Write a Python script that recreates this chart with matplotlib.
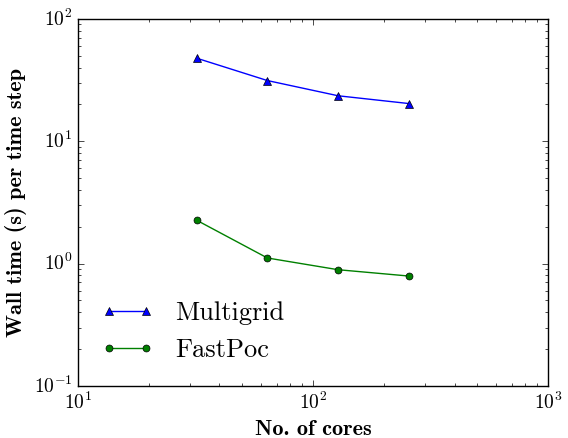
import numpy as np
import matplotlib
matplotlib.use("Agg")
import matplotlib.pyplot as plt

cores = [32, 64, 128, 256]
multigrid = [47.7, 31.3, 23.5, 20.3]
fastpoc = [2.26, 1.11, 0.89, 0.79]

plt.style.use("classic")
plt.rcParams["font.family"] = "serif"
plt.rcParams["font.serif"] = ["cmr10"]
plt.rcParams["mathtext.fontset"] = "cm"
plt.rcParams["axes.formatter.use_mathtext"] = True

fig = plt.figure(figsize=(5.68, 4.38), dpi=100, facecolor="white")
ax = fig.add_axes([0.137, 0.119, 0.828, 0.838])

ax.loglog(cores, multigrid, "b-^", label="Multigrid", markersize=6)
ax.loglog(cores, fastpoc, "g-o", label="FastPoc", markersize=5)

ax.set_xlim(10, 1000)
ax.set_ylim(0.1, 100)
ax.tick_params(labelsize=14)
ax.set_xlabel("No. of cores", fontsize=16, family="cmb10")
ax.set_ylabel("Wall time (s) per time step", fontsize=16, family="cmb10")
ax.legend(loc="lower left", frameon=False, fontsize=19, numpoints=2,
          bbox_to_anchor=(0.0, 0.0))

fig.savefig("out.png", dpi=100, facecolor="white")
